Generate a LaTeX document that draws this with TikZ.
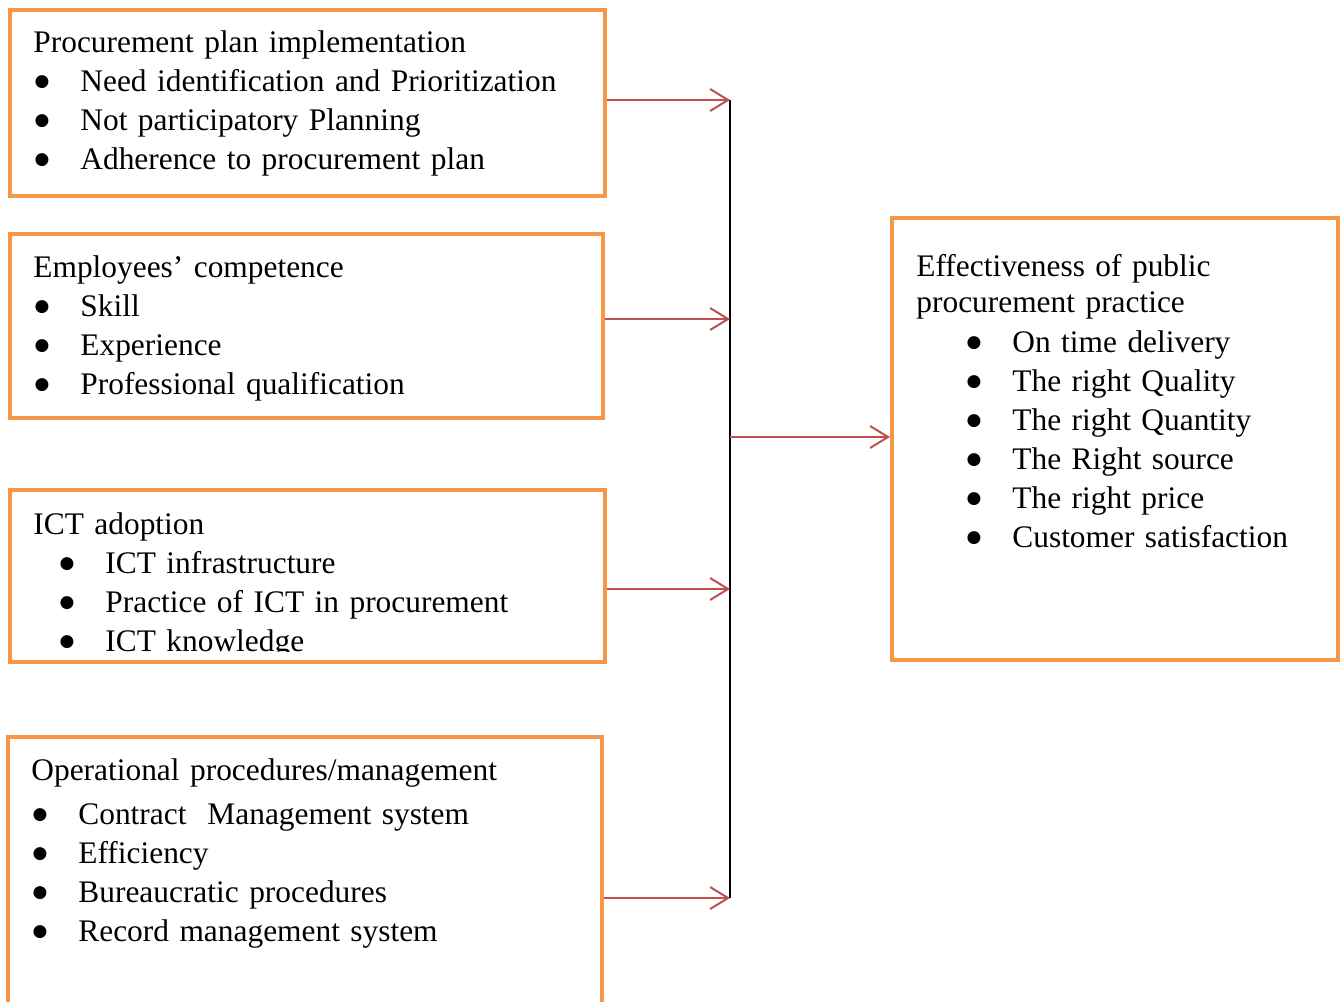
\documentclass[tikz,border=0pt]{standalone}
\usepackage{fontspec}
\setmainfont{Liberation Serif}
\newfontfamily\dotfont{DejaVu Sans}
\usetikzlibrary{arrows.meta}
\definecolor{boxorange}{HTML}{F79646}
\definecolor{linkred}{HTML}{C0504D}
\newcommand{\bul}[1][0pt]{\hspace*{#1}\makebox[23.5pt][l]{\hspace{0.6pt}\raisebox{2.4pt}{\dotfont\fontsize{8.5}{8.5}\selectfont ●}}}

\begin{document}
\begin{tikzpicture}[x=0.5pt, y=-0.5pt,
    box/.style={draw=boxorange, line width=2pt, rectangle, inner sep=0pt},
    txt/.style={anchor=base west, inner sep=0pt, text width=290pt, align=left, font=\fontsize{15.7}{19.5}\selectfont},
    arrow/.style={-{Straight Barb[length=9pt, width=11pt]}, line width=1pt, color=linkred},
    bus/.style={line width=1pt, black}]

    \useasboundingbox (0,0) rectangle (1340,1002);

    \node (plan) [box, minimum width=297.5pt, minimum height=93pt] at (307.5,103) {};
    \node (staff) [box, minimum width=296.5pt, minimum height=92pt] at (306.5,326) {};
    \node (ict) [box, minimum width=297.5pt, minimum height=86pt] at (307.5,576) {};
    \node (ops) [box, minimum width=297pt, minimum height=137.5pt] at (305,874.5) {};
    \node (outcome) [box, minimum width=223pt, minimum height=221pt] at (1115,439) {};

    \node (plantxt) [txt] at (33,52) {Procurement plan implementation\\
        \bul Need identification and Prioritization\\
        \bul Not participatory Planning\\
        \bul Adherence to procurement plan};
    \node (stafftxt) [txt] at (33,277) {Employees’ competence\\
        \bul Skill\\
        \bul Experience\\
        \bul Professional qualification};
    \begin{scope}
        \clip (12,492) rectangle (603,651);
        \node (icttxt) [txt] at (33,534) {ICT adoption\\
            \bul[12.5pt]ICT infrastructure\\
            \bul[12.5pt]Practice of ICT in procurement\\
            \bul[12.5pt]ICT knowledge};
    \end{scope}
    \node (opstxt) [txt] at (31,780) {Operational procedures/management\\[2.5pt]
        \bul Contract\ \ Management system\\
        \bul Efficiency\\
        \bul Bureaucratic procedures\\
        \bul Record management system};
    \node (outcometxt) [txt] at (916,276) {Effectiveness of public\\[-1.5pt]
        procurement practice\\[0.5pt]
        \bul[24.5pt]On time delivery\\
        \bul[24.5pt]The right Quality\\
        \bul[24.5pt]The right Quantity\\
        \bul[24.5pt]The Right source\\
        \bul[24.5pt]The right price\\
        \bul[24.5pt]Customer satisfaction};

    \coordinate (j1) at (730,100);
    \coordinate (j2) at (730,319);
    \coordinate (jm) at (730,437);
    \coordinate (j3) at (730,589);
    \coordinate (j4) at (730,898);

    \draw [bus] (j1) -- (j4);
    \draw [arrow] (plan.east |- j1) -- (j1);
    \draw [arrow] (staff.east |- j2) -- (j2);
    \draw [arrow] (ict.east |- j3) -- (j3);
    \draw [arrow] (ops.east |- j4) -- (j4);
    \draw [arrow] (jm) -- (outcome.west |- jm);
\end{tikzpicture}
\end{document}
